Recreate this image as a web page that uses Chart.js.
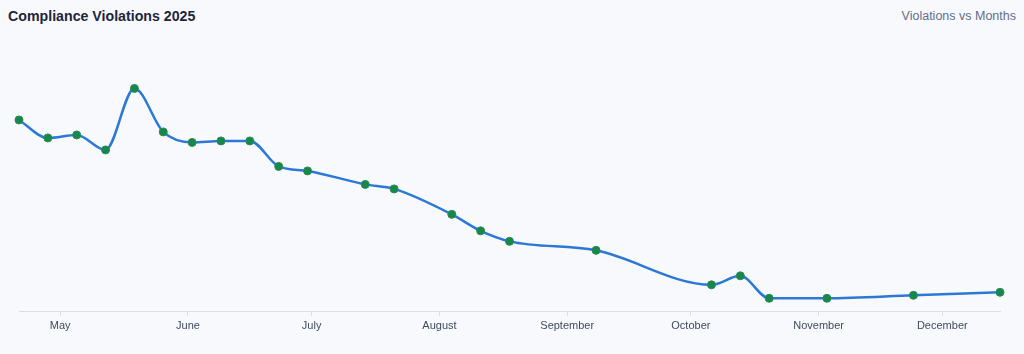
<!DOCTYPE html>
<html>
<head>
<meta charset="utf-8">
<script src="https://cdn.jsdelivr.net/npm/chart.js@4/dist/chart.umd.min.js"></script>
<style>
  html, body { margin: 0; padding: 0; background: #f8f9fd; width: 1024px; height: 354px; overflow: hidden; }
  #title { position: absolute; left: 8px; top: 8px; font: bold 14.2px "Liberation Sans", Arial, sans-serif; color: #1e2638; }
  #sub { position: absolute; right: 8px; top: 9px; font: 12.5px "Liberation Sans", Arial, sans-serif; color: #5f6f88; }
  #wrap { position: absolute; left: 0; top: 0; width: 1024px; height: 354px; }
</style>
</head>
<body>
<div id="title">Compliance Violations 2025</div>
<div id="sub">Violations vs Months</div>
<div id="wrap"><canvas id="c"></canvas></div>
<script>
const dates = ["2025-04-21","2025-04-28","2025-05-05","2025-05-12","2025-05-19","2025-05-26","2025-06-02","2025-06-09","2025-06-16","2025-06-23","2025-06-30","2025-07-14","2025-07-21","2025-08-04","2025-08-11","2025-08-18","2025-09-08","2025-10-06","2025-10-13","2025-10-20","2025-11-03","2025-11-24","2025-12-15"];
const violations = [128,116,118,108,149,120,113,114,114,97,94,85,82,65,54,47,41,18,24,9,9,11,13];
const monthTicks = ["2025-05-01","2025-06-01","2025-07-01","2025-08-01","2025-09-01","2025-10-01","2025-11-01","2025-12-01"];
const monthLabels = ["May","June","July","August","September","October","November","December"];

const DAY = 86400000;
const toDay = s => Date.UTC(+s.slice(0,4), +s.slice(5,7)-1, +s.slice(8,10)) / DAY;
const points = dates.map((d,i) => ({x: toDay(d), y: violations[i]}));
const tickDays = monthTicks.map(toDay);

new Chart(document.getElementById('c'), {
  type: 'line',
  data: {
    datasets: [{
      label: 'Violations',
      data: points,
      borderColor: '#2b78d6',
      borderWidth: 2.5,
      backgroundColor: '#17874b',
      pointBackgroundColor: '#17874b',
      pointBorderColor: '#2a8a55',
      pointBorderWidth: 1,
      pointRadius: 4,
      cubicInterpolationMode: 'monotone',
      clip: false,
      fill: false
    }]
  },
  options: {
    responsive: true,
    maintainAspectRatio: false,
    animation: false,
    layout: { padding: { left: 19, right: 24, top: 42, bottom: 17 } },
    plugins: { legend: { display: false }, tooltip: { enabled: false } },
    scales: {
      x: {
        type: 'linear',
        min: toDay(dates[0]),
        max: toDay(dates[dates.length-1]),
        afterBuildTicks: (scale) => { scale.ticks = tickDays.map(v => ({value: v})); },
        ticks: {
          autoSkip: false,
          maxRotation: 0,
          padding: 4,
          color: '#3f4b5f',
          font: { family: '"Liberation Sans", Arial, sans-serif', size: 11 },
          callback: (v) => { const i = tickDays.indexOf(v); return i >= 0 ? monthLabels[i] : ''; }
        },
        grid: { display: true, drawOnChartArea: false, tickLength: 4, color: '#d9dee6' },
        border: { display: true, color: '#d9dee6', width: 1 }
      },
      y: {
        display: false,
        min: 0,
        max: 180
      }
    }
  }
});
</script>
</body>
</html>
